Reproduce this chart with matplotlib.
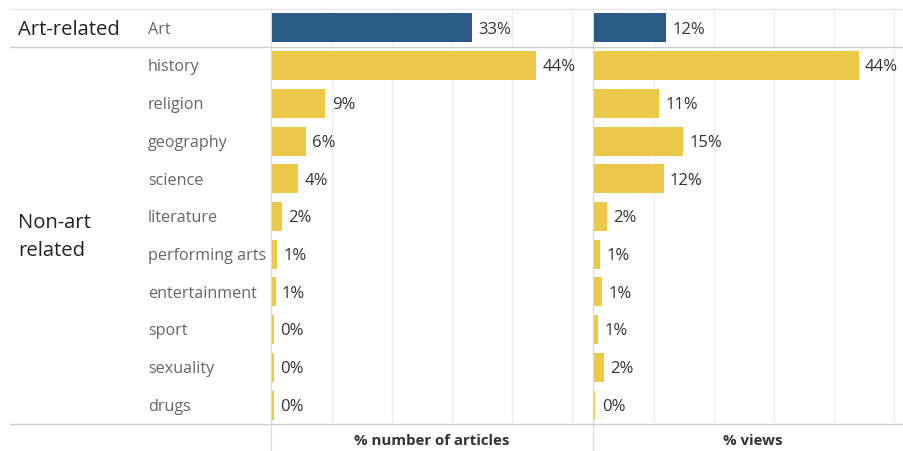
import matplotlib
matplotlib.use("Agg")
import matplotlib.pyplot as plt
from matplotlib.lines import Line2D

plt.rcParams['font.family'] = ['Open Sans', 'DejaVu Sans']

categories = ["Art", "history", "religion", "geography", "science", "literature",
              "performing arts", "entertainment", "sport", "sexuality", "drugs"]
groups = ["Art-related", "Non-art\nrelated"]
pct_articles = [33.4, 44.0, 8.9, 5.7, 4.4, 1.6, 0.8, 0.6, 0.3, 0.25, 0.25]
pct_views = [12.0, 44.1, 10.8, 14.8, 11.6, 2.1, 1.05, 1.3, 0.7, 1.7, 0.25]
axis_titles = ["% number of articles", "% views"]

BLUE = "#2c5a86"
YELLOW = "#ecc94a"
colors = [BLUE] + [YELLOW] * (len(categories) - 1)

W, H = 904, 451
fig = plt.figure(figsize=(W / 100, H / 100), dpi=100)

top_px, bot_px = 9, 424
n = len(categories)
dy = 1.8  # text baseline nudge (px)

def fx(px):
    return px / W

def fy(py):
    return 1 - py / H

# vertical separators (behind bars)
for px in (271, 593):
    fig.add_artist(Line2D([fx(px), fx(px)], [fy(top_px), 0], color="#dddddd", lw=1.0, zorder=-1))

panels = [(272, 592, pct_articles), (594, 904, pct_views)]
px_per_pct = 6.0
axes = []
title_centers = [432, 753]
for i, (x0, x1, vals) in enumerate(panels):
    ax = fig.add_axes([fx(x0), fy(bot_px), fx(x1 - x0), (bot_px - top_px) / H])
    ax.set_xlim(0, (x1 - x0) / px_per_pct)
    ax.set_ylim(n - 0.5, -0.5)
    for g in range(10, 60, 10):
        ax.axvline(g, color="#eeeeee", lw=0.9, zorder=0)
    ax.barh(range(n), vals, height=0.77, color=colors, zorder=2)
    for j, v in enumerate(vals):
        ax.annotate(f"{v:.0f}%", (v, j), xytext=(4.5, -dy * 0.72), textcoords="offset points",
                    va="center", ha="left", fontsize=12, color="#333333")
    for s in ax.spines.values():
        s.set_visible(False)
    ax.set_xticks([])
    ax.set_yticks([])
    ax.patch.set_alpha(0)
    fig.text(fx(title_centers[i]), fy(441), axis_titles[i],
             ha="center", va="center", fontsize=10.8, fontweight="bold", color="#333333")
    axes.append(ax)

row_h = (bot_px - top_px) / n

def row_y(j):
    return top_px + (j + 0.5) * row_h + dy

# category labels
for j, c in enumerate(categories):
    fig.text(fx(148), fy(row_y(j)), c, ha="left", va="center", fontsize=11.6, color="#666666")

# group labels
fig.text(fx(18), fy(row_y(0)), groups[0], ha="left", va="center", fontsize=14.6, color="#222222")
fig.text(fx(18), fy((row_y(1) + row_y(n - 1)) / 2), groups[1], ha="left", va="center",
         fontsize=14.6, color="#222222", linespacing=1.55)

# horizontal separators
for py, col in [(top_px, "#e6e6e6"), (top_px + row_h, "#cfcfcf"), (bot_px, "#cfcfcf")]:
    fig.add_artist(Line2D([fx(10), 1], [fy(py), fy(py)], color=col, lw=1.0))

fig.savefig("out.png", dpi=100)
